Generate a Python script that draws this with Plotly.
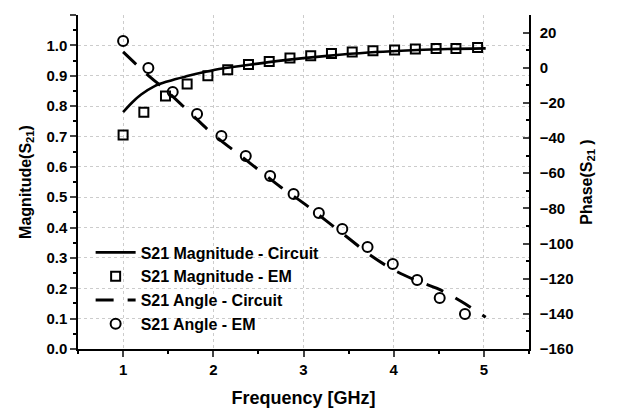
import plotly.graph_objects as go

# Magnitude - circuit (solid curve)
mag_circ_f = [1.0, 1.1, 1.2, 1.35, 1.5, 1.7, 1.9, 2.1, 2.4, 2.7, 3.0, 3.4, 3.8, 4.2, 4.6, 5.02]
mag_circ_v = [0.78, 0.812, 0.838, 0.866, 0.882, 0.898, 0.912, 0.924, 0.936, 0.948, 0.958, 0.969, 0.978, 0.984, 0.988, 0.99]

# Magnitude - EM (open squares)
mag_em_f = [1.0, 1.23, 1.47, 1.71, 1.94, 2.16, 2.39, 2.62, 2.85, 3.08, 3.31, 3.54, 3.77, 4.01, 4.24, 4.47, 4.69, 4.93]
mag_em_v = [0.705, 0.78, 0.833, 0.873, 0.90, 0.92, 0.937, 0.947, 0.958, 0.966, 0.973, 0.978, 0.982, 0.985, 0.988, 0.99, 0.99, 0.993]

# Angle - circuit (dashed line)
ang_circ_f = [1.0, 1.25, 1.5, 1.75, 2.0, 2.25, 2.5, 2.75, 3.0, 3.25, 3.5, 3.75, 4.0, 4.25, 4.5, 4.75, 5.02]
ang_circ_v = [9, -3, -14, -26, -38, -48, -58, -68, -77, -87, -97, -107, -115, -121, -126, -133, -142]

# Angle - EM (open circles)
ang_em_f = [1.0, 1.28, 1.55, 1.82, 2.09, 2.36, 2.63, 2.89, 3.17, 3.43, 3.71, 3.99, 4.26, 4.51, 4.79]
ang_em_v = [15.2, -0.2, -13.8, -26.3, -38.8, -50.2, -61.6, -71.8, -82.6, -91.7, -102, -111.7, -120.8, -131, -140.1]

x_ticks = [1, 2, 3, 4, 5]

FONT = "Liberation Sans, Arial, sans-serif"

fig = go.Figure()
fig.add_trace(go.Scatter(x=mag_circ_f, y=mag_circ_v, mode="lines", line=dict(color="black", width=2.6, shape="spline"),
                         name="S21 Magnitude - Circuit"))
fig.add_trace(go.Scatter(x=mag_em_f, y=mag_em_v, mode="markers",
                         marker=dict(symbol="square-open", size=9, color="black", line=dict(width=2)),
                         name="S21 Magnitude - EM"))
fig.add_trace(go.Scatter(x=ang_circ_f, y=ang_circ_v, mode="lines", yaxis="y2",
                         line=dict(color="black", width=3, dash="18px,14px", shape="spline"),
                         name="S21 Angle - Circuit"))
fig.add_trace(go.Scatter(x=ang_em_f, y=ang_em_v, mode="markers", yaxis="y2",
                         marker=dict(symbol="circle-open", size=10, color="black", line=dict(width=2)),
                         name="S21 Angle - EM"))

tickfont = dict(family=FONT, size=15, color="black", weight="bold")
ytitlefont = dict(family=FONT, size=16, color="black", weight="bold")
xtitlefont = dict(family=FONT, size=18, color="black", weight="bold")

# the page body has an 8px margin, so the figure is 8px smaller and margins shifted
fig.update_layout(
    width=612, height=404,
    margin=dict(l=70, r=91, t=7, b=63),
    paper_bgcolor="white", plot_bgcolor="white",
    font=dict(family=FONT, color="black"),
    showlegend=True,
    legend=dict(x=0.028, y=0.34, xanchor="left", yanchor="top", bgcolor="rgba(0,0,0,0)",
                font=dict(family=FONT, size=16, color="black", weight="bold"),
                itemwidth=40, tracegroupgap=0),
    xaxis=dict(range=[0.5, 5.5], tickvals=x_ticks, ticks="outside", ticklen=6, tickwidth=1.5,
               showline=True, linecolor="black", linewidth=1.5, mirror=False,
               showgrid=True, gridcolor="#cccccc", griddash="dot", gridwidth=1,
               zeroline=False, tickfont=tickfont,
               minor=dict(dtick=0.5, ticks="outside", ticklen=3, tickcolor="black", showgrid=False),
               title=dict(text="Frequency [GHz]", font=xtitlefont, standoff=15), automargin=False),
    yaxis=dict(range=[0, 1.1], dtick=0.1, tick0=0, tickformat=".1f", ticks="outside", ticklen=6, tickwidth=1.5,
               showline=True, linecolor="black", linewidth=1.5,
               showgrid=True, gridcolor="#cccccc", griddash="dot", gridwidth=1,
               zeroline=False, tickfont=tickfont,
               minor=dict(dtick=0.05, ticks="outside", ticklen=3, tickcolor="black", showgrid=False),
               title=dict(text="Magnitude(S<sub>21</sub>)", font=ytitlefont, standoff=11), automargin=False),
    yaxis2=dict(range=[-160, 30], dtick=20, tick0=0, overlaying="y", side="right", ticks="inside", ticklen=6, tickwidth=1.5,
                showline=True, linecolor="black", linewidth=1.5, showgrid=False, zeroline=False,
                tickfont=tickfont, ticklabelstandoff=6,
                minor=dict(dtick=10, ticks="inside", ticklen=3, tickcolor="black"),
                title=dict(text="Phase(S<sub>21</sub> )", font=ytitlefont, standoff=8), automargin=False),
)

fig.write_html("out.html")
